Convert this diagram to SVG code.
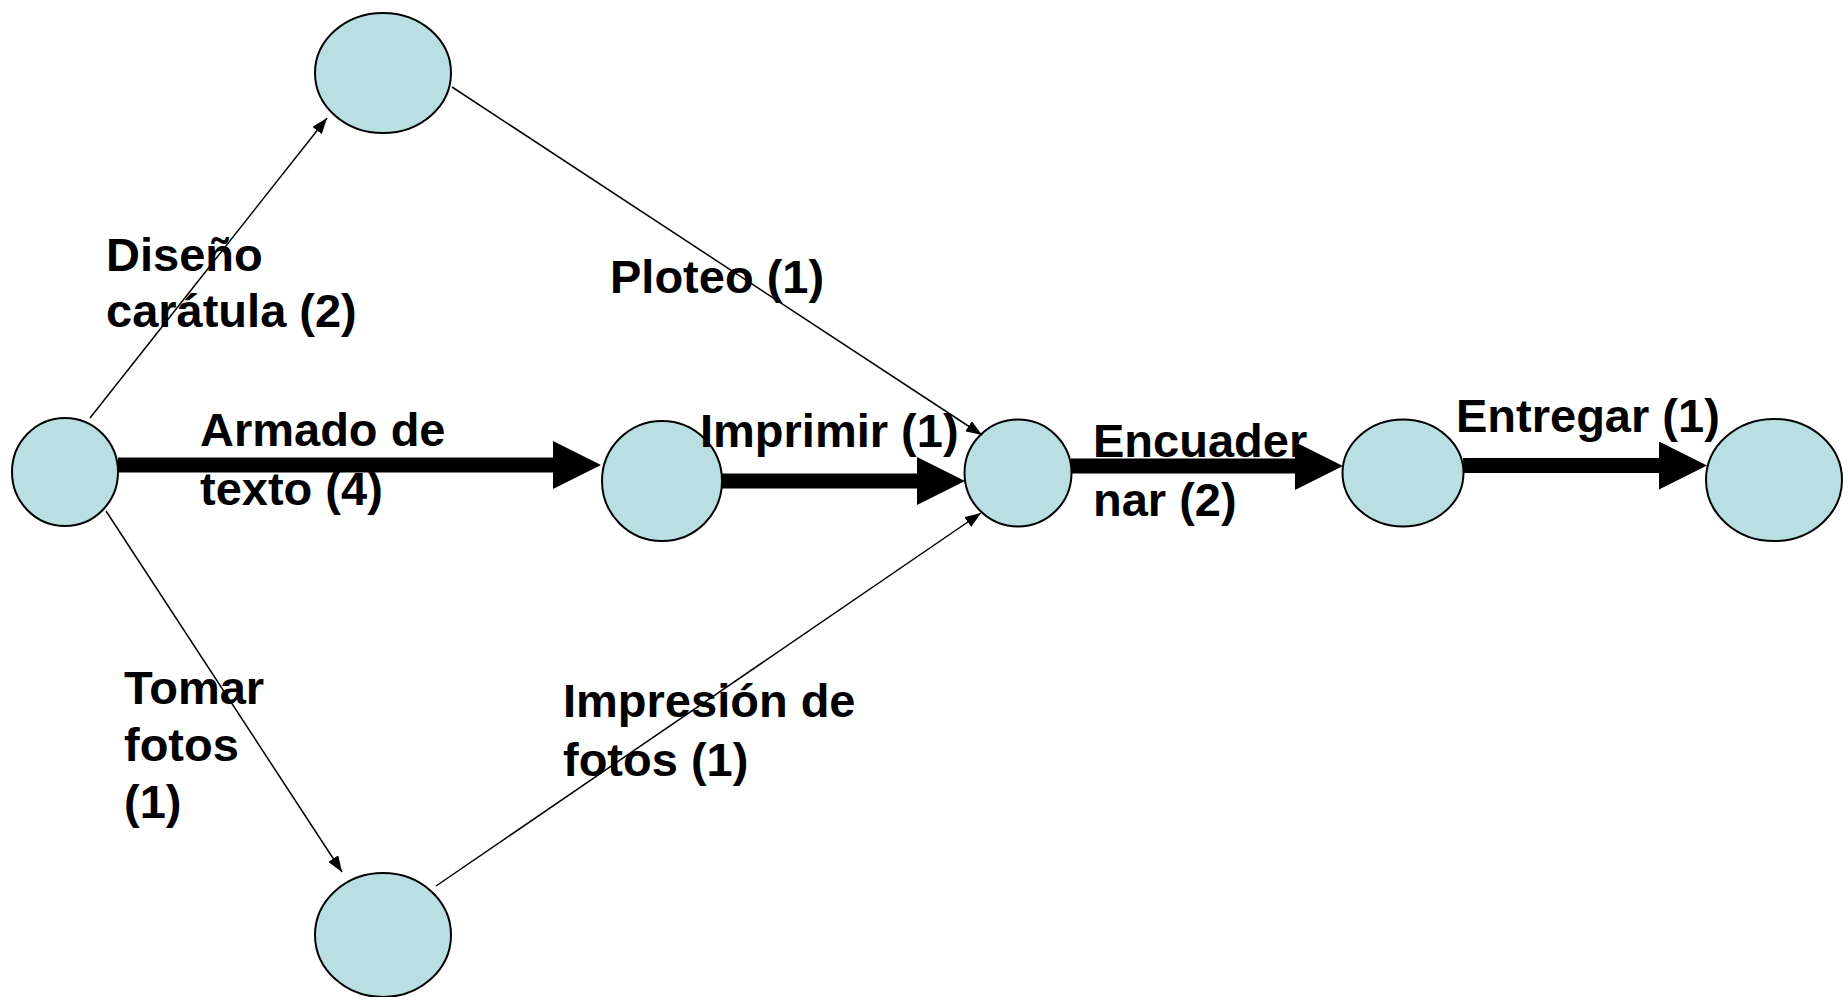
<svg xmlns="http://www.w3.org/2000/svg" width="1843" height="997" viewBox="0 0 1843 997">
<defs>
<style>
.node{fill:#B9DFE3;stroke:#000;stroke-width:2}
.thin{stroke:#000;stroke-width:1.5;fill:none}
.thick{stroke:#000;stroke-width:15;fill:none}
.lbl{font-family:"Liberation Sans",Arial,sans-serif;font-weight:bold;font-size:47px;fill:#000}
</style>
<marker id="ah" markerUnits="userSpaceOnUse" markerWidth="16" markerHeight="12" viewBox="0 0 16 12" refX="16" refY="6" orient="auto">
<path d="M0,0 L16,6 L0,12 z" fill="#000"/>
</marker>
<marker id="big" markerUnits="userSpaceOnUse" markerWidth="48" markerHeight="48" viewBox="0 0 48 48" refX="0" refY="24" orient="auto">
<path d="M0,0 L48,24 L0,48 z" fill="#000"/>
</marker>
</defs>
<rect width="1843" height="997" fill="#fff"/>
<g id="n0"><ellipse class="node" cx="65" cy="472" rx="53" ry="54"/></g>
<g id="n1"><ellipse class="node" cx="383" cy="73" rx="68" ry="60"/></g>
<g id="n2"><ellipse class="node" cx="662" cy="481" rx="60" ry="60"/></g>
<g id="n3"><ellipse class="node" cx="383" cy="935" rx="68" ry="62"/></g>
<g id="n4"><ellipse class="node" cx="1018" cy="473" rx="53.5" ry="53.5"/></g>
<g id="n5"><ellipse class="node" cx="1403" cy="473" rx="60.5" ry="53.5"/></g>
<g id="n6"><ellipse class="node" cx="1774" cy="480" rx="68" ry="61"/></g>
<g id="labels">
<text class="lbl" x="106" y="271">Diseño</text>
<text class="lbl" x="106" y="327">carátula (2)</text>
<text class="lbl" x="610" y="293">Ploteo (1)</text>
<text class="lbl" x="200" y="446">Armado de</text>
<text class="lbl" x="200" y="505">texto (4)</text>
<text class="lbl" x="700" y="447">Imprimir (1)</text>
<text class="lbl" x="1093" y="457">Encuader</text>
<text class="lbl" x="1093" y="516">nar (2)</text>
<text class="lbl" x="1456" y="432">Entregar (1)</text>
<text class="lbl" x="124" y="704">Tomar</text>
<text class="lbl" x="124" y="761">fotos</text>
<text class="lbl" x="124" y="818">(1)</text>
<text class="lbl" x="563" y="717">Impresión de</text>
<text class="lbl" x="563" y="776">fotos (1)</text>
</g>
<g id="connectors">
<line class="thin" x1="90" y1="418" x2="327" y2="118" marker-end="url(#ah)"/>
<line class="thin" x1="452" y1="87" x2="982" y2="435" marker-end="url(#ah)"/>
<line class="thin" x1="106" y1="511" x2="342" y2="872" marker-end="url(#ah)"/>
<line class="thin" x1="436" y1="886" x2="981" y2="513" marker-end="url(#ah)"/>
<line class="thick" x1="118" y1="465" x2="553" y2="465" marker-end="url(#big)"/>
<line class="thick" x1="722" y1="481" x2="917" y2="481" marker-end="url(#big)"/>
<line class="thick" x1="1071" y1="466" x2="1295" y2="466" marker-end="url(#big)"/>
<line class="thick" x1="1463" y1="465.5" x2="1659" y2="465.5" marker-end="url(#big)"/>
</g>
</svg>
